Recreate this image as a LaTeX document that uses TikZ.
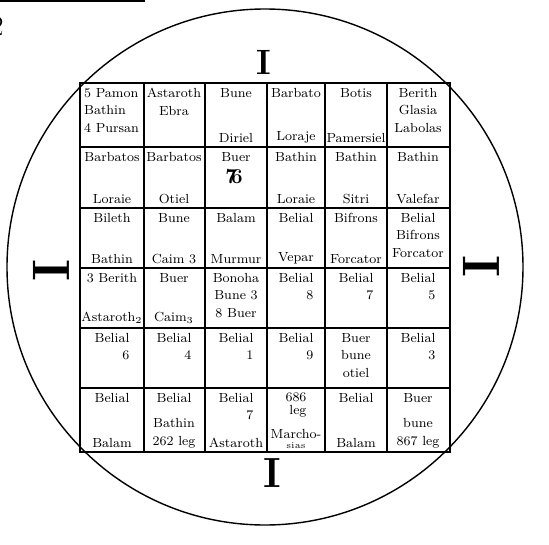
\documentclass[tikz,border=0pt]{standalone}
\usetikzlibrary{positioning}
\begin{document}
\begin{tikzpicture}[x=0.02cm, y=-0.02cm,
  every node/.style={font=\fontsize{7.5}{10}\selectfont},
  cell/.style={inner sep=1pt, align=center},
  numcell/.style={inner sep=1pt, align=right},
  ibar/.style={inner sep=0pt, font=\bfseries\fontsize{#1}{#1}\selectfont}]
\useasboundingbox (0,0) rectangle (549,545);
% outer circle and the square
\draw[line width=0.8pt] (265,267) circle [radius=258];
\draw[line width=1.3pt] (80,83) rectangle (450,452);
\draw[line width=1.1pt] (144,83) -- (144,452);
\draw[line width=1.1pt] (205,83) -- (205,452);
\draw[line width=1.1pt] (267,83) -- (267,452);
\draw[line width=1.1pt] (325,83) -- (325,452);
\draw[line width=1.1pt] (387,83) -- (387,452);
\draw[line width=1.1pt] (80,147) -- (450,147);
\draw[line width=1.1pt] (80,208) -- (450,208);
\draw[line width=1.1pt] (80,268) -- (450,268);
\draw[line width=1.1pt] (80,328) -- (450,328);
\draw[line width=1.1pt] (80,388) -- (450,388);
% cut-off heading at the top left
\draw[line width=1pt] (0,1) -- (145,1);
\node[inner sep=0pt, anchor=east, font=\fontsize{16}{16}\selectfont] (head) at (4,26) {2};
% the four marks
\node[ibar=20] (itop) at (264,62) {I};
\node[ibar=24] (ibottom) at (272,473) {I};
\node[ibar=30, rotate=90] (ileft) at (51,270) {I};
\node[ibar=30, rotate=90] (iright) at (481,266) {I};
% row 1
\node[cell, anchor=north west, align=left] (r1c1) at (82,86) {5 Pamon\\Bathin\\4 Pursan};
\node[cell, anchor=north] (r1c2) at (174,86) {Astaroth\\Ebra};
\node[cell, anchor=north] (r1c3t) at (236,86) {Bune};
\node[cell, anchor=south] (r1c3b) at (236,145) {Diriel};
\node[cell, anchor=north] (r1c4t) at (296,86) {Barbato};
\node[cell, anchor=south] (r1c4b) at (296,145) {Loraje};
\node[cell, anchor=north] (r1c5t) at (356,86) {Botis};
\node[cell, anchor=south] (r1c5b) at (356,145) {Pamersiel};
\node[cell, anchor=north] (r1c6) at (418,86) {Berith\\Glasia\\Labolas};
% row 2
\node[cell, anchor=north] (r2c1t) at (112,150) {Barbatos};
\node[cell, anchor=south] (r2c1b) at (112,206) {Loraie};
\node[cell, anchor=north] (r2c2t) at (174,150) {Barbatos};
\node[cell, anchor=south] (r2c2b) at (174,206) {Otiel};
\node[cell, anchor=north] (r2c3t) at (236,150) {Buer};
\node[cell, font=\bfseries\fontsize{12}{12}\selectfont] (r2c3s) at (234,176) {7\kern-0.3em6};
\node[cell, anchor=north] (r2c4t) at (296,150) {Bathin};
\node[cell, anchor=south] (r2c4b) at (296,206) {Loraie};
\node[cell, anchor=north] (r2c5t) at (356,150) {Bathin};
\node[cell, anchor=south] (r2c5b) at (356,206) {Sitri};
\node[cell, anchor=north] (r2c6t) at (418,150) {Bathin};
\node[cell, anchor=south] (r2c6b) at (418,206) {Valefar};
% row 3
\node[cell, anchor=north] (r3c1t) at (112,211) {Bileth};
\node[cell, anchor=south] (r3c1b) at (112,266) {Bathin};
\node[cell, anchor=north] (r3c2t) at (174,211) {Bune};
\node[cell, anchor=south] (r3c2b) at (174,266) {Caim 3};
\node[cell, anchor=north] (r3c3t) at (236,211) {Balam};
\node[cell, anchor=south] (r3c3b) at (236,266) {Murmur};
\node[cell, anchor=north] (r3c4t) at (296,211) {Belial};
\node[cell, anchor=south] (r3c4b) at (296,266) {Vepar};
\node[cell, anchor=north] (r3c5t) at (356,211) {Bifrons};
\node[cell, anchor=south] (r3c5b) at (356,266) {Forcator};
\node[cell, anchor=north] (r3c6) at (418,211) {Belial\\Bifrons\\Forcator};
% row 4
\node[cell, anchor=north] (r4c1t) at (112,271) {3 Berith};
\node[cell, anchor=south] (r4c1b) at (112,326) {Astaroth\textsubscript{2}};
\node[cell, anchor=north] (r4c2t) at (174,271) {Buer};
\node[cell, anchor=south] (r4c2b) at (174,326) {Caim\textsubscript{3}};
\node[cell, anchor=north] (r4c3) at (236,271) {Bonoha\\Bune 3\\8 Buer};
\node[numcell, anchor=north] (r4c4) at (296,271) {Belial\\8};
\node[numcell, anchor=north] (r4c5) at (356,271) {Belial\\7};
\node[numcell, anchor=north] (r4c6) at (418,271) {Belial\\5};
% row 5
\node[numcell, anchor=north] (r5c1) at (112,331) {Belial\\6};
\node[numcell, anchor=north] (r5c2) at (174,331) {Belial\\4};
\node[numcell, anchor=north] (r5c3) at (236,331) {Belial\\1};
\node[numcell, anchor=north] (r5c4) at (296,331) {Belial\\9};
\node[cell, anchor=north] (r5c5) at (356,331) {Buer\\bune\\otiel};
\node[numcell, anchor=north] (r5c6) at (418,331) {Belial\\3};
% row 6
\node[cell, anchor=north] (r6c1t) at (112,391) {Belial};
\node[cell, anchor=south] (r6c1b) at (112,450) {Balam};
\node[cell, anchor=north] (r6c2t) at (174,391) {Belial};
\node[cell, anchor=south] (r6c2b) at (174,450) {Bathin\\262 leg};
\node[numcell, anchor=north] (r6c3t) at (236,391) {Belial\\7};
\node[cell, anchor=south] (r6c3b) at (236,450) {Astaroth};
\node[numcell, anchor=north] (r6c4t) at (296,391) {686\\[-3pt]leg};
\node[cell, anchor=south] (r6c4b) at (296,451) {Marcho-\\[-4pt]{\tiny sias}};
\node[cell, anchor=north] (r6c5t) at (356,391) {Belial};
\node[cell, anchor=south] (r6c5b) at (356,450) {Balam};
\node[cell, anchor=north] (r6c6t) at (418,391) {Buer};
\node[cell, anchor=south] (r6c6b) at (418,450) {bune\\867 leg};
\end{tikzpicture}
\end{document}
